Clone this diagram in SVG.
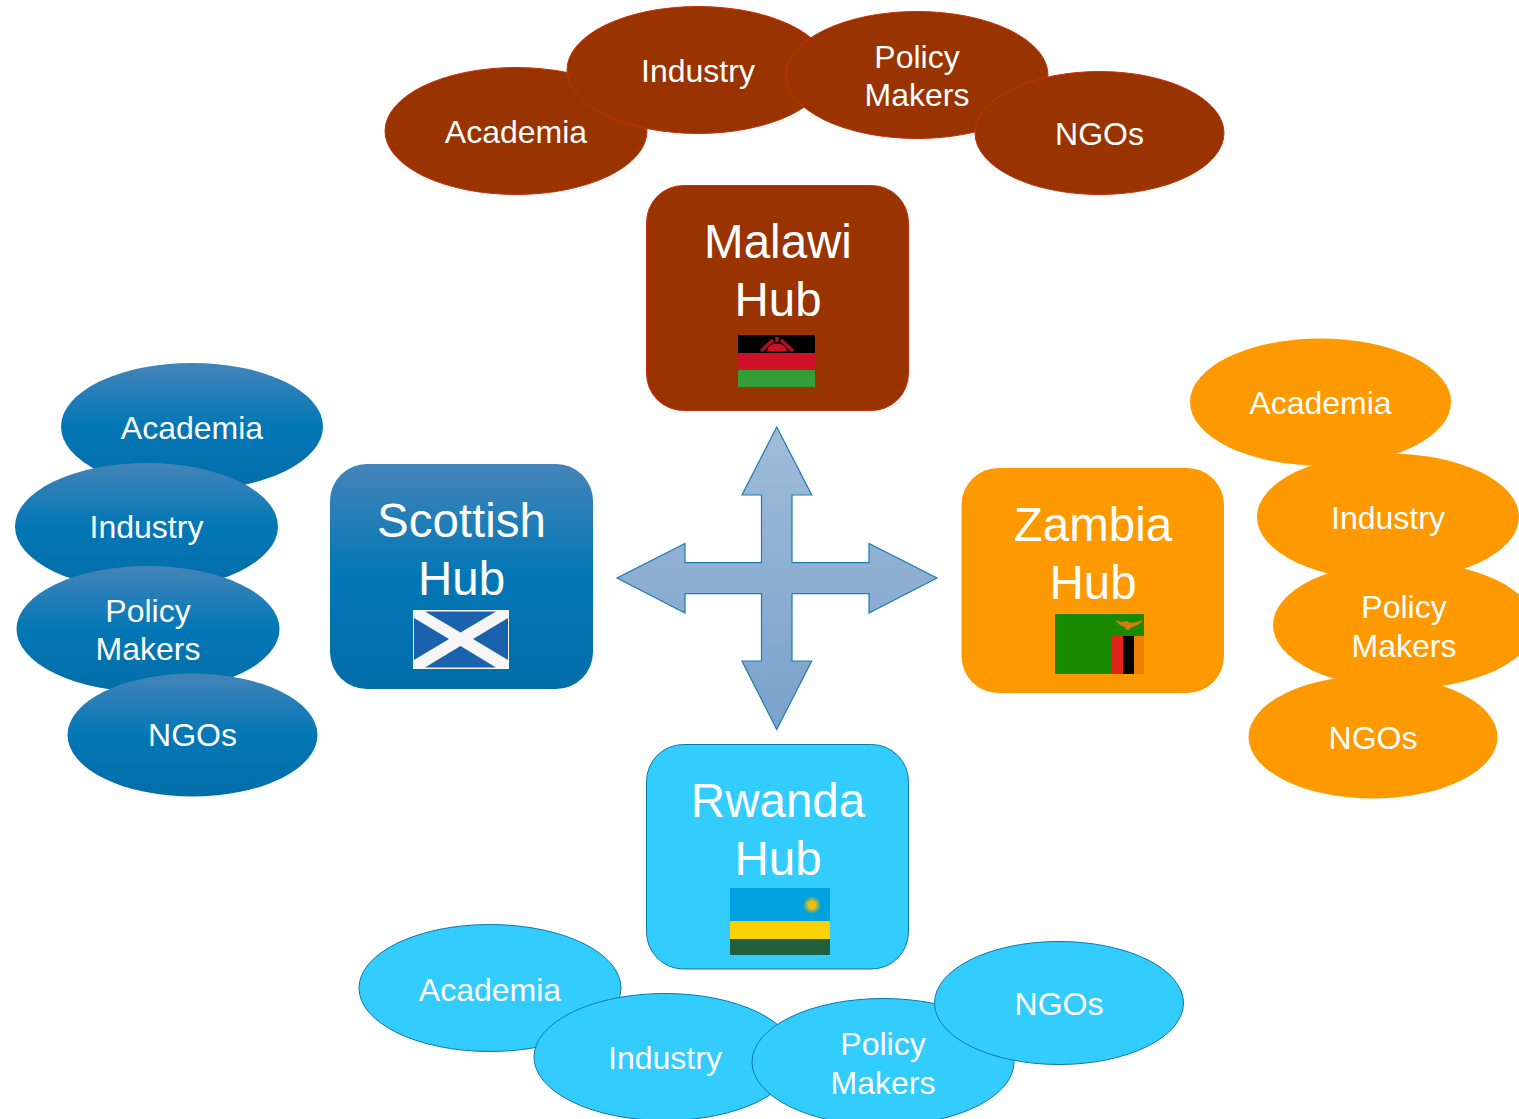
<svg xmlns="http://www.w3.org/2000/svg" width="1519" height="1119" viewBox="0 0 1519 1119">
<style>
text{font-family:"Liberation Sans",Arial,sans-serif;fill:#fff;text-anchor:middle}
.e{font-size:32px}
.h{font-size:47.500px}
.mw{fill:#993300;stroke:#c8300c;stroke-width:1}
.sc{fill:url(#blue);stroke:none}
.zm{fill:#ff9900;stroke:none}
.rw{fill:#33ccff;stroke:#0b78aa;stroke-width:1}
</style>
<defs>
<linearGradient id="blue" x1="0" y1="0" x2="0" y2="1">
<stop offset="0" stop-color="#4484b8"/><stop offset=".5" stop-color="#0277b5"/><stop offset="1" stop-color="#026ea9"/>
</linearGradient>
<linearGradient id="arrow" x1="0" y1="0" x2="0" y2="1">
<stop offset="0" stop-color="#a0bcd9"/><stop offset="1" stop-color="#7aa2cb"/>
</linearGradient>
<radialGradient id="sun">
<stop offset="0" stop-color="#f2c200"/><stop offset=".4" stop-color="#e8c010"/><stop offset="1" stop-color="#e5be01" stop-opacity="0"/>
</radialGradient>
</defs>
<rect width="1519" height="1119" fill="#fff"/>

<g id="connectors">
<path d="M776.700 427 L811.700 495 H792 V562.700 H869 V543.500 L937 578 L869 613 V593.700 H792 V661 H811.700 L776.700 729.500 L742 661 H761.500 V593.700 H685 V613 L617 578 L685 543.500 V562.700 H761.500 V495 H742 Z" fill="url(#arrow)" stroke="#1a7cb0" stroke-width="1.200"/>
</g>

<g id="malawi-academia"><ellipse class="mw" cx="516" cy="131" rx="131" ry="63.500"/><text class="e" x="516" y="143">Academia</text></g>
<g id="malawi-industry"><ellipse class="mw" cx="698" cy="70" rx="131" ry="63.500"/><text class="e" x="698" y="82">Industry</text></g>
<g id="malawi-policy"><ellipse class="mw" cx="917" cy="75" rx="131" ry="63.500"/><text class="e" x="917" y="68">Policy</text><text class="e" x="917" y="106">Makers</text></g>
<g id="malawi-ngos"><ellipse class="mw" cx="1099.500" cy="133" rx="124.500" ry="61.500"/><text class="e" x="1099.500" y="145">NGOs</text></g>
<g id="malawi-hub">
<rect class="mw" x="646.500" y="185.500" width="262" height="225" rx="37"/>
<text class="h" x="778" y="258">Malawi</text><text class="h" x="778" y="316">Hub</text>
<rect x="738" y="335" width="77" height="18" fill="#000"/><rect x="738" y="353" width="77" height="17" fill="#ce1126"/><rect x="738" y="370" width="77" height="17" fill="#339e35"/>
<path d="M767 351.500 A10 8 0 0 1 787 351.500 Z" fill="#ce1126"/>
<path d="M761 351 L773 340 M793 351 L781 340 M777 342 V337" fill="none" stroke="#b01025" stroke-width="3.500"/>
</g>

<g id="scottish-academia"><ellipse class="sc" cx="192" cy="426.500" rx="131" ry="63.500"/><text class="e" x="192" y="439">Academia</text></g>
<g id="scottish-industry"><ellipse class="sc" cx="146.500" cy="526.500" rx="131.500" ry="63.500"/><text class="e" x="146.500" y="538">Industry</text></g>
<g id="scottish-policy"><ellipse class="sc" cx="148" cy="629" rx="131.500" ry="63"/><text class="e" x="148" y="622">Policy</text><text class="e" x="148" y="660">Makers</text></g>
<g id="scottish-ngos"><ellipse class="sc" cx="192.500" cy="735" rx="125" ry="61.500"/><text class="e" x="192.500" y="746">NGOs</text></g>
<g id="scottish-hub">
<rect class="sc" x="330" y="464" width="263" height="225" rx="37"/>
<text class="h" x="461.500" y="537">Scottish</text><text class="h" x="461.500" y="595">Hub</text>
<rect x="413" y="610" width="96" height="59" fill="#f6f6f6"/>
<path d="M425 611.500 H496 L460.500 632.500 Z M414 618 V660 L449 639 Z M508 618 V660 L473 639 Z M425 667.500 H496 L460.500 646 Z" fill="#1a62ae"/>
</g>

<g id="zambia-academia"><ellipse class="zm" cx="1320.500" cy="402" rx="130.500" ry="63.500"/><text class="e" x="1320.500" y="414">Academia</text></g>
<g id="zambia-industry"><ellipse class="zm" cx="1388" cy="517" rx="131" ry="63.500"/><text class="e" x="1388" y="529">Industry</text></g>
<g id="zambia-policy"><ellipse class="zm" cx="1404" cy="625" rx="131" ry="63.500"/><text class="e" x="1404" y="618">Policy</text><text class="e" x="1404" y="657">Makers</text></g>
<g id="zambia-ngos"><ellipse class="zm" cx="1373" cy="737" rx="124.500" ry="61.500"/><text class="e" x="1373" y="749">NGOs</text></g>
<g id="zambia-hub">
<rect class="zm" x="961.500" y="468" width="262.500" height="225" rx="37"/>
<text class="h" x="1093" y="541">Zambia</text><text class="h" x="1093" y="599">Hub</text>
<rect x="1055" y="614" width="89" height="60" fill="#198a00"/>
<rect x="1112" y="636" width="11" height="38" fill="#e2231a"/><rect x="1123" y="636" width="11" height="38" fill="#000"/><rect x="1134" y="636" width="10" height="38" fill="#ef7d00"/>
<path d="M1115 620 L1122 622 L1127 621 L1130 623 L1137 622 L1142 620 L1141 623 L1133 627 L1130 628 L1129 630 L1126 630 L1125 627 L1120 625 Z" fill="#d9780c"/>
</g>

<g id="rwanda-academia"><ellipse class="rw" cx="490" cy="988" rx="131" ry="63.500"/><text class="e" x="490" y="1001">Academia</text></g>
<g id="rwanda-industry"><ellipse class="rw" cx="665" cy="1057" rx="131" ry="63.500"/><text class="e" x="665" y="1069">Industry</text></g>
<g id="rwanda-policy"><ellipse class="rw" cx="883" cy="1062" rx="131" ry="63.500"/><text class="e" x="883" y="1055">Policy</text><text class="e" x="883" y="1094">Makers</text></g>
<g id="rwanda-ngos"><ellipse class="rw" cx="1059" cy="1003" rx="124.500" ry="61.500"/><text class="e" x="1059" y="1015">NGOs</text></g>
<g id="rwanda-hub">
<rect class="rw" x="646.500" y="744.500" width="262" height="224.500" rx="37"/>
<text class="h" x="778" y="817">Rwanda</text><text class="h" x="778" y="875">Hub</text>
<rect x="730" y="888" width="100" height="33" fill="#00a1de"/><rect x="730" y="921" width="100" height="18" fill="#fad201"/><rect x="730" y="939" width="100" height="16" fill="#20603d"/>
<circle cx="812" cy="905" r="9" fill="url(#sun)"/>
</g>
</svg>
